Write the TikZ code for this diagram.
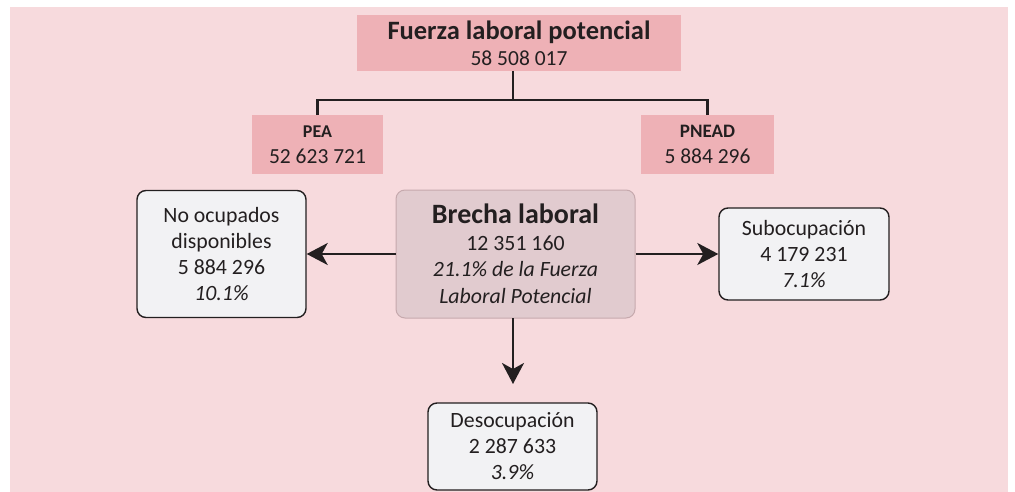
\documentclass[tikz,border=0pt]{standalone}
\usepackage{fontspec}
\setmainfont{Carlito}
\usetikzlibrary{arrows.meta}

\definecolor{fondo}{HTML}{F7DADD}
\definecolor{rosa}{HTML}{EEB1B6}
\definecolor{brecha}{HTML}{E1CBCF}
\definecolor{brechaborde}{HTML}{C6A9AD}
\definecolor{caja}{HTML}{F2F2F4}
\definecolor{tinta}{HTML}{231F20}

\tikzset{
	rosabox/.style={fill=rosa, inner sep=0pt, align=center, text=tinta,
		font=\fontsize{21.5}{26}\selectfont},
	datobox/.style={draw=tinta, fill=caja, line width=1.4pt, rounded corners=9pt,
		inner sep=0pt, align=center, text=tinta, font=\fontsize{21.8}{26}\selectfont},
	flecha/.style={draw=tinta, line width=2.4pt,
		-{Stealth[length=21pt,width=22pt,inset=6pt]}},
	rama/.style={draw=tinta, line width=2.4pt}
}

\begin{document}
\begin{tikzpicture}[x=1pt,y=-1pt]
	\useasboundingbox (0,0) rectangle (1015,492);
	\fill[fondo] (10,7) rectangle (1008,492);

	% cajas superiores
	\node[rosabox, minimum width=324pt, minimum height=56pt] (flp) at (519,43)
		{{\fontsize{26.5}{27}\selectfont\bfseries Fuerza laboral potencial}\\58 508 017};
	\node[rosabox, minimum width=131pt, minimum height=59pt] (pea) at (317.5,144.5)
		{{\fontsize{18}{24}\selectfont\bfseries PEA}\\52 623 721};
	\node[rosabox, minimum width=133pt, minimum height=59pt] (pnead) at (707.5,144.5)
		{{\fontsize{19}{24}\selectfont\bfseries PNEAD}\\5 884 296};

	\coordinate (tronco) at (513,71);
	\coordinate (cruce) at (513,100);
	\draw[rama] (tronco) -- (cruce);
	\draw[rama] (pea.north) |- (cruce) -| (pnead.north);

	% brecha y desgloses
	\node[draw=brechaborde, fill=brecha, line width=1pt, rounded corners=9pt,
		minimum width=239pt, minimum height=128pt, inner sep=0pt, align=center,
		text=tinta, font=\fontsize{21.8}{26.5}\selectfont] (brl) at (515.5,254)
		{{\fontsize{28}{28}\selectfont\bfseries Brecha laboral}\\12 351 160\\
		\itshape 21.1\% de la Fuerza\\\itshape Laboral Potencial};

	\node[datobox, minimum width=169pt, minimum height=127pt] (noc) at (221.5,254)
		{No ocupados\\disponibles\\5 884 296\\\itshape 10.1\%};
	\node[datobox, minimum width=170pt, minimum height=92pt] (sub) at (804,254)
		{Subocupación\\4 179 231\\\itshape 7.1\%};
	\node[datobox, minimum width=169pt, minimum height=87pt] (des) at (512.5,446.5)
		{Desocupación\\2 287 633\\\itshape 3.9\%};

	\coordinate (bajo) at (513,318);
	\coordinate (punta) at (513,384);
	\draw[flecha] (brl.west) -- (noc.east);
	\draw[flecha] (brl.east) -- (sub.west);
	\draw[flecha] (bajo) -- (punta);
\end{tikzpicture}
\end{document}
